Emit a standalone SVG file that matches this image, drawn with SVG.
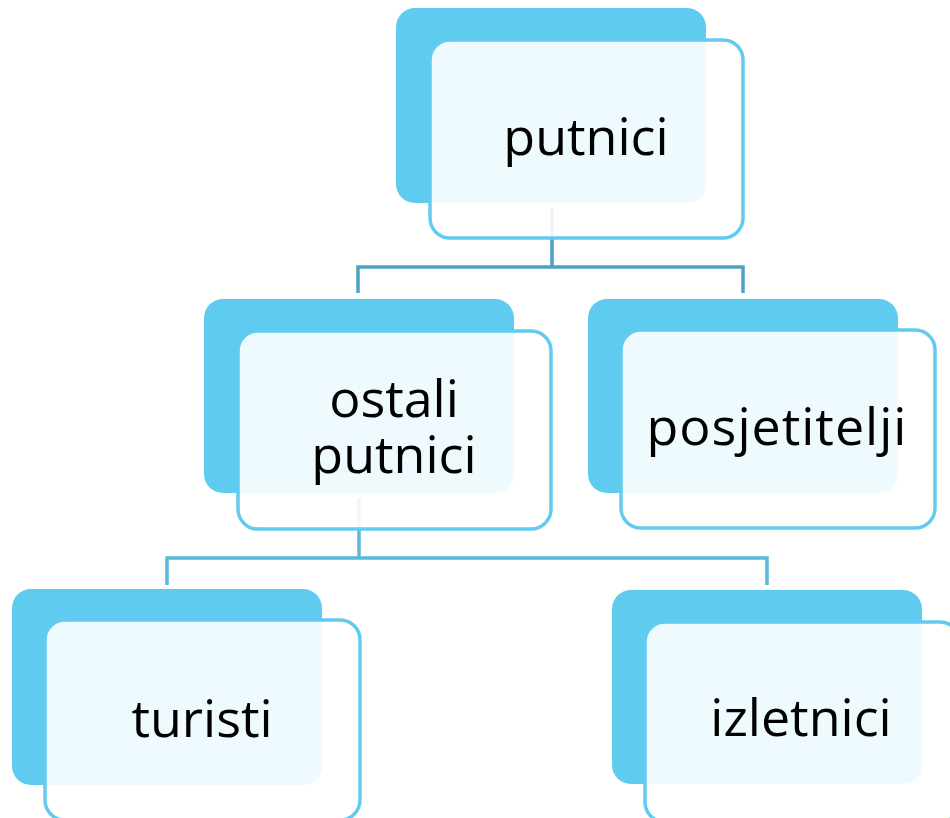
<svg xmlns="http://www.w3.org/2000/svg" width="950" height="818" viewBox="0 0 950 818">
<style>
.back{fill:#5ECBEF}
.front{fill:#ffffff;fill-opacity:0.9;stroke:#62CBEF;stroke-width:3.5}
.lbl{font-family:"Open Sans","Liberation Sans",Arial,sans-serif;font-size:52px;fill:#000;text-anchor:middle}
.c1{fill:none;stroke:#4AA3C2;stroke-width:3.5}
.c2{fill:none;stroke:#58B9DA;stroke-width:3.5}
</style>
<rect width="950" height="818" fill="#ffffff"/>
<g id="n1-back"><rect class="back" x="396" y="8" width="310" height="195" rx="19"/></g>
<g id="n2-back"><rect class="back" x="204" y="299" width="310" height="194" rx="19"/></g>
<g id="n3-back"><rect class="back" x="588" y="299" width="310" height="194" rx="19"/></g>
<g id="n4-back"><rect class="back" x="12" y="589" width="310" height="196" rx="19"/></g>
<g id="n5-back"><rect class="back" x="612" y="590" width="310" height="194" rx="19"/></g>
<g id="connectors">
<path class="c1" d="M552 207 V267 M358 293 V267 H743 V293"/>
<path class="c2" d="M359 498 V558 M167 585 V558 H767 V585"/>
</g>
<g id="n1"><rect class="front" x="430" y="40" width="313" height="198" rx="20"/><text class="lbl" x="586" y="155">putnici</text></g>
<g id="n2"><rect class="front" x="238" y="331" width="313" height="198" rx="20"/><text class="lbl" x="394" y="417">ostali</text><text class="lbl" x="394" y="473">putnici</text></g>
<g id="n3"><rect class="front" x="621" y="330" width="314" height="198" rx="20"/><text class="lbl" x="777" y="445" letter-spacing="1">posjetitelji</text></g>
<g id="n4"><rect class="front" x="45" y="620" width="315" height="200" rx="20"/><text class="lbl" x="202" y="737">turisti</text></g>
<g id="n5"><rect class="front" x="645" y="622" width="315" height="200" rx="20"/><text class="lbl" x="801" y="736">izletnici</text></g>
</svg>
